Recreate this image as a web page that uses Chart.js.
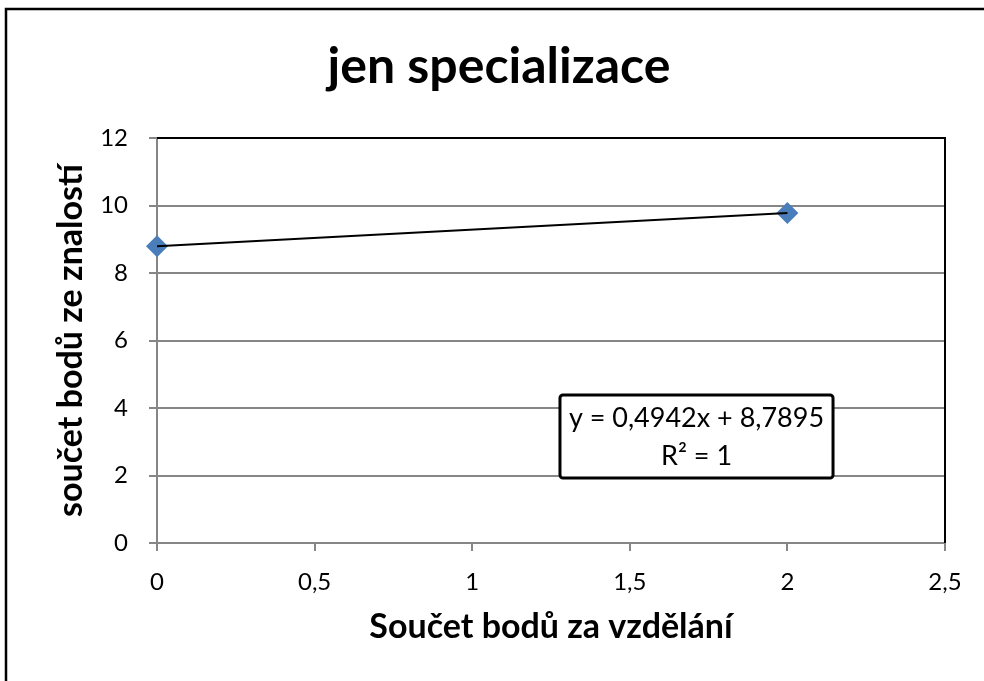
<!DOCTYPE html>
<html>
<head>
<meta charset="utf-8">
<script src="https://cdn.jsdelivr.net/npm/chart.js@4"></script>
<style>
  body { margin: 0; background: #fff; }
  canvas { display: block; }
</style>
</head>
<body>
<canvas id="chart" width="984" height="681"></canvas>
<script>
// data
const eduScore = [0, 2];
const knowledgeScore = [8.7895, 9.7779];
const xTickLabels = ["0", "0,5", "1", "1,5", "2", "2,5"];
const yTickLabels = ["0", "2", "4", "6", "8", "10", "12"];
const trendText = ["y = 0,4942x + 8,7895", "R² = 1"];
const chartTitle = "jen specializace";
const xTitle = "Součet bodů za vzdělání";
const yTitle = "součet bodů ze znalostí";

const FONT = 'Lato, "Open Sans", sans-serif';
const GRID = "#868686";

const points = eduScore.map((x, i) => ({ x: x, y: knowledgeScore[i] }));

// outer frame, black plot border and the trendline label
const frame = {
  id: "frame",
  beforeDraw(chart) {
    const ctx = chart.ctx;
    ctx.save();
    ctx.fillStyle = "#fff";
    ctx.fillRect(0, 0, chart.width, chart.height);
    ctx.strokeStyle = "#000";
    ctx.lineWidth = 2.5;
    ctx.beginPath();
    ctx.moveTo(6, chart.height + 5);
    ctx.lineTo(6, 9);
    ctx.lineTo(chart.width + 5, 9);
    ctx.stroke();
    ctx.restore();
  },
  beforeDatasetsDraw(chart) {
    const a = chart.chartArea;
    const ctx = chart.ctx;
    ctx.save();
    ctx.strokeStyle = "#000";
    ctx.lineWidth = 2;
    ctx.beginPath();
    ctx.moveTo(a.left, a.top);
    ctx.lineTo(a.right, a.top);
    ctx.lineTo(a.right, a.bottom);
    ctx.stroke();
    ctx.restore();
  },
  afterDatasetsDraw(chart) {
    const a = chart.chartArea;
    const w = a.right - a.left;
    const h = a.bottom - a.top;
    const ctx = chart.ctx;
    const bx = a.left + w * 0.5114;
    const bw = w * 0.3465;
    const by = a.top + h * 0.6346;
    const bh = h * 0.205;
    ctx.save();
    ctx.fillStyle = "#fff";
    ctx.strokeStyle = "#000";
    ctx.lineWidth = 3;
    ctx.beginPath();
    ctx.roundRect(bx, by, bw, bh, 3);
    ctx.fill();
    ctx.stroke();
    ctx.fillStyle = "#000";
    ctx.font = "27px " + FONT;
    ctx.textAlign = "center";
    ctx.textBaseline = "middle";
    ctx.fillText(trendText[0], bx + bw / 2, by + bh * 0.28);
    ctx.fillText(trendText[1], bx + bw / 2, by + bh * 0.74);
    ctx.restore();
  }
};

new Chart(document.getElementById("chart"), {
  type: "scatter",
  data: {
    datasets: [
      {
        label: "trend",
        data: points,
        showLine: true,
        borderColor: "#000",
        borderWidth: 2,
        pointRadius: 0,
        clip: false
      },
      {
        label: "body",
        data: points,
        pointStyle: "rectRot",
        pointRadius: 11,
        backgroundColor: "#4a7ebb",
        borderColor: "#4a7ebb",
        borderWidth: 0,
        clip: false
      }
    ]
  },
  options: {
    responsive: false,
    devicePixelRatio: 1,
    animation: false,
    layout: { padding: { left: 53, right: 39, top: 0, bottom: 0 } },
    plugins: {
      legend: { display: false },
      tooltip: { enabled: false },
      title: {
        display: true,
        text: chartTitle,
        color: "#000",
        font: { family: FONT, size: 50, weight: "bold" },
        padding: { top: 37, bottom: 41 }
      }
    },
    scales: {
      x: {
        type: "linear",
        min: 0,
        max: 2.5,
        ticks: {
          stepSize: 0.5,
          color: "#000",
          padding: 17,
          font: { family: FONT, size: 24 },
          callback: (v) => xTickLabels[Math.round(v * 2)]
        },
        grid: { drawOnChartArea: false, tickLength: 8, tickColor: GRID, lineWidth: 2 },
        border: { color: GRID, width: 2 },
        title: {
          display: true,
          text: xTitle,
          color: "#000",
          font: { family: FONT, size: 34, weight: "bold" },
          padding: { top: 0, bottom: 34 }
        },
        afterFit: (s) => { s.height = 138; }
      },
      y: {
        min: 0,
        max: 12,
        ticks: {
          stepSize: 2,
          color: "#000",
          padding: 21,
          font: { family: FONT, size: 24 },
          callback: (v) => yTickLabels[Math.round(v / 2)]
        },
        grid: { color: GRID, lineWidth: 2, tickLength: 8, tickColor: GRID },
        border: { color: GRID, width: 2 },
        title: {
          display: true,
          text: yTitle,
          color: "#000",
          font: { family: FONT, size: 34, weight: "bold" },
          padding: { top: -2, bottom: 0 }
        },
        afterFit: (s) => { s.width = 104; }
      }
    }
  },
  plugins: [frame]
});
</script>
</body>
</html>
